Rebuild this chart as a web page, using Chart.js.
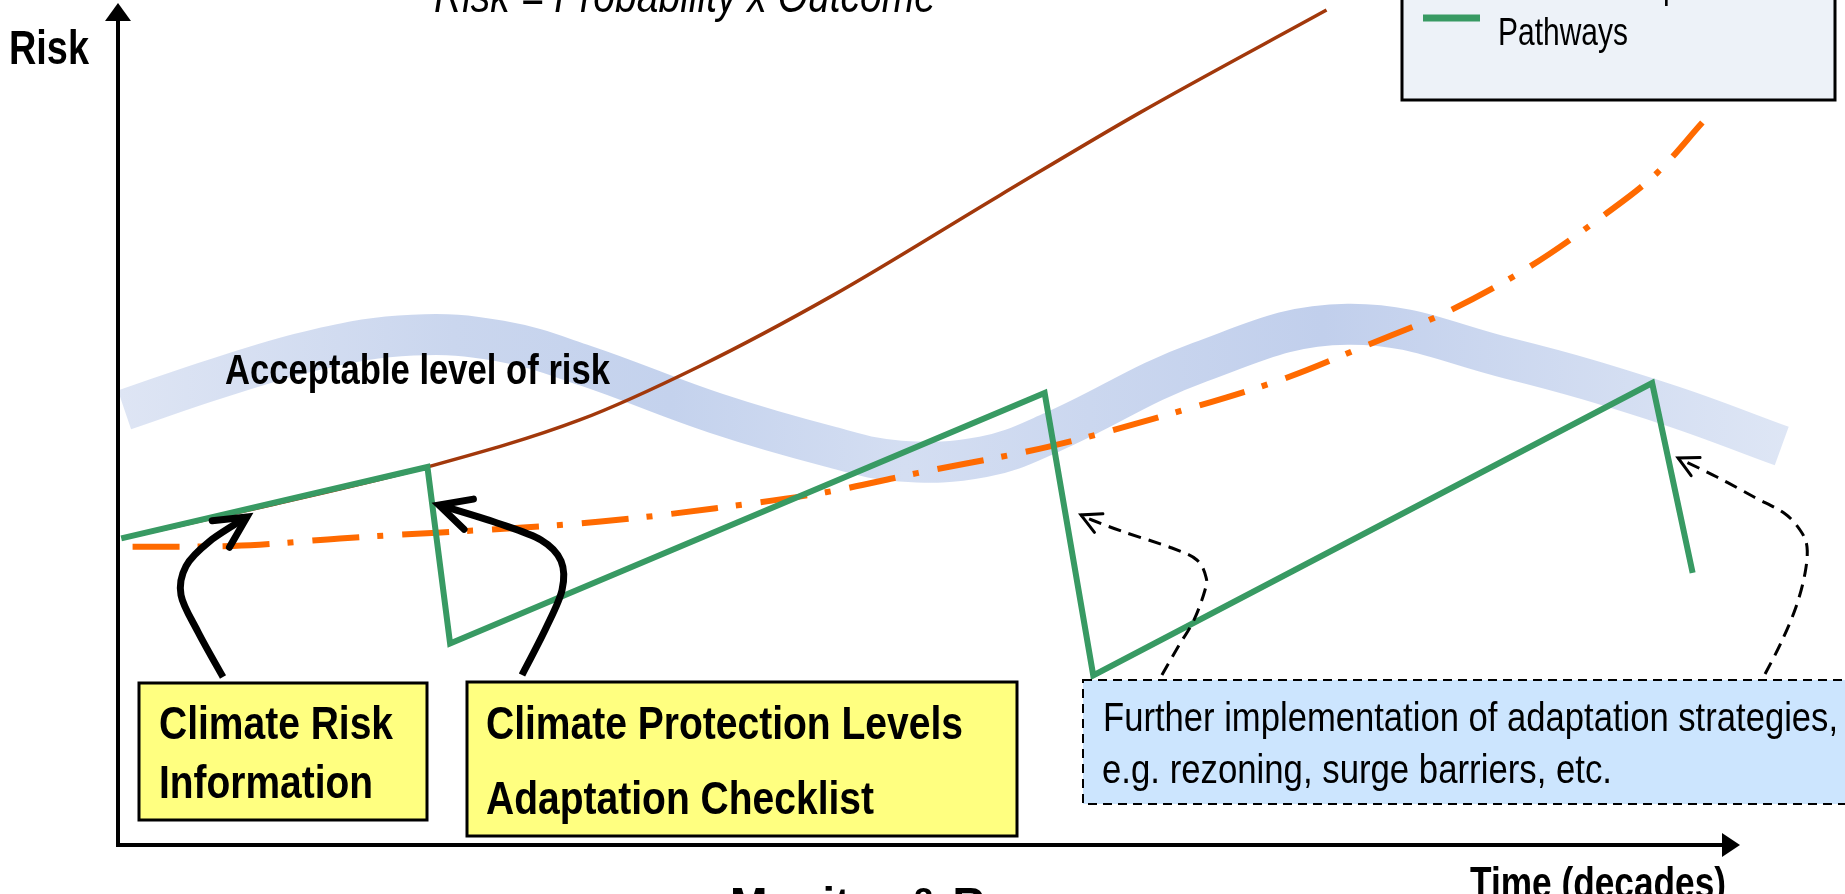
<!DOCTYPE html>
<html>
<head>
<meta charset="utf-8">
<title>Flexible Adaptation Pathways</title>
<script src="https://cdn.jsdelivr.net/npm/chart.js@4.4.1/dist/chart.umd.min.js"></script>
<style>
  html, body { margin: 0; padding: 0; background: #ffffff; overflow: hidden; }
  canvas { display: block; }
</style>
</head>
<body>
<canvas id="risk" width="1845" height="894"></canvas>
<script>
// Time in decades (0–10 across the axis), risk in relative units (0–10 up the axis)

// Flexible adaptation pathways: risk climbs, then each adaptation step drops it
const pathwayTime = [0.02, 1.91, 2.05, 5.72, 6.02, 9.47, 9.72];
const pathwayRisk = [3.65, 4.50, 2.40, 5.38, 2.02, 5.50, 3.24];

// Risk with climate change and no adaptation
const noAdaptTime = [0.025, 0.97, 1.91, 2.85, 3.59, 4.41, 5.44, 6.30, 7.46];
const noAdaptRisk = [3.65, 4.06, 4.50, 5.06, 5.70, 6.54, 7.73, 8.71, 9.94];

// Risk under an alternative climate trajectory (dash-dot)
const altTime = [0.09, 0.71, 1.37, 2.98, 3.69, 4.37, 4.94, 5.74, 6.40, 7.21, 7.71, 8.23, 8.71, 9.16, 9.50, 9.78];
const altRisk = [3.55, 3.56, 3.65, 3.85, 4.01, 4.20, 4.43, 4.74, 5.08, 5.56, 5.95, 6.37, 6.88, 7.48, 8.00, 8.60];

// Acceptable level of risk (broad band)
const bandTime = [0.04, 0.62, 1.23, 1.82, 2.36, 2.88, 3.69, 4.40, 4.83, 5.34, 5.75, 6.68, 7.59, 8.59, 9.54, 10.27];
const bandRisk = [5.18, 5.56, 5.90, 6.07, 6.00, 5.71, 5.14, 4.74, 4.57, 4.62, 4.90, 5.75, 6.20, 5.79, 5.26, 4.75];

// Annotation arrows, in the same time / risk units
const arrowRiskInfoT = [0.648, 0.494, 0.389, 0.420, 0.568, 0.796];
const arrowRiskInfoR = [2.000, 2.536, 2.976, 3.321, 3.619, 3.905];
const arrowProtectT  = [2.494, 2.642, 2.741, 2.735, 2.611, 2.340, 1.981];
const arrowProtectR  = [2.024, 2.583, 3.036, 3.381, 3.631, 3.833, 4.048];
const arrowFurther1T = [6.444, 6.543, 6.642, 6.710, 6.716, 6.660, 6.506, 6.210, 6.012, 5.944];
const arrowFurther1R = [2.024, 2.357, 2.679, 3.036, 3.190, 3.393, 3.536, 3.726, 3.869, 3.929];
const arrowFurther2T = [10.167, 10.265, 10.358, 10.414, 10.426, 10.383, 10.284, 10.099, 9.870, 9.630];
const arrowFurther2R = [2.036, 2.405, 2.833, 3.238, 3.548, 3.750, 3.952, 4.143, 4.381, 4.607];

const toPoints = (xs, ys) => xs.map((x, i) => ({ x: x, y: ys[i] }));

const NARROW = "'Liberation Sans Narrow', 'Arial Narrow', 'Liberation Sans', Arial, sans-serif";
const WIDE = "'Liberation Sans', Arial, sans-serif";

// Draws text so that it spans a given width (condensed face, horizontally fitted)
function fitText(ctx, str, x, y, font, width, color) {
  ctx.save();
  ctx.font = font;
  ctx.fillStyle = color || '#000';
  ctx.textAlign = 'left';
  ctx.textBaseline = 'alphabetic';
  const m = ctx.measureText(str).width;
  const sx = width ? width / m : 1;
  ctx.translate(x, y);
  ctx.scale(sx, 1);
  ctx.fillText(str, 0, 0);
  ctx.restore();
  return sx;
}

function smoothPath(ctx, pts) {
  ctx.moveTo(pts[0].x, pts[0].y);
  for (let i = 0; i < pts.length - 1; i++) {
    const p0 = pts[i - 1] || pts[i];
    const p1 = pts[i];
    const p2 = pts[i + 1];
    const p3 = pts[i + 2] || p2;
    ctx.bezierCurveTo(
      p1.x + (p2.x - p0.x) / 6, p1.y + (p2.y - p0.y) / 6,
      p2.x - (p3.x - p1.x) / 6, p2.y - (p3.y - p1.y) / 6,
      p2.x, p2.y);
  }
}

function drawArrow(chart, ts, rs, opts) {
  const { ctx, scales } = chart;
  const pts = ts.map((t, i) => ({ x: scales.x.getPixelForValue(t), y: scales.y.getPixelForValue(rs[i]) }));
  ctx.save();
  ctx.strokeStyle = '#000';
  ctx.lineWidth = opts.width;
  ctx.setLineDash(opts.dash || []);
  ctx.lineCap = 'butt';
  ctx.beginPath();
  smoothPath(ctx, pts);
  ctx.stroke();
  // open arrow head at the final point
  const a = pts[pts.length - 2], b = pts[pts.length - 1];
  const back = Math.atan2(a.y - b.y, a.x - b.x);
  ctx.setLineDash([]);
  ctx.lineCap = 'round';
  ctx.lineJoin = 'miter';
  ctx.beginPath();
  ctx.moveTo(b.x + opts.head * Math.cos(back + opts.spread), b.y + opts.head * Math.sin(back + opts.spread));
  ctx.lineTo(b.x, b.y);
  ctx.lineTo(b.x + opts.head * Math.cos(back - opts.spread), b.y + opts.head * Math.sin(back - opts.spread));
  ctx.stroke();
  ctx.restore();
}

function box(ctx, x, y, w, h, fill, lineWidth, dash) {
  ctx.save();
  ctx.fillStyle = fill;
  ctx.fillRect(x, y, w, h);
  ctx.strokeStyle = '#000';
  ctx.lineWidth = lineWidth;
  ctx.setLineDash(dash || []);
  ctx.strokeRect(x, y, w, h);
  ctx.restore();
}

const decor = {
  id: 'decor',
  afterDatasetsDraw(chart) {
    const { ctx, chartArea } = chart;
    const L = chartArea.left, B = chartArea.bottom;

    // axes with arrow heads
    ctx.save();
    ctx.strokeStyle = '#000';
    ctx.fillStyle = '#000';
    ctx.lineWidth = 4;
    ctx.beginPath();
    ctx.moveTo(L, B + 2);
    ctx.lineTo(L, chartArea.top + 14);
    ctx.moveTo(L - 2, B);
    ctx.lineTo(chartArea.right - 14, B);
    ctx.stroke();
    ctx.beginPath();
    ctx.moveTo(L, chartArea.top - 2);
    ctx.lineTo(L - 13, chartArea.top + 16);
    ctx.lineTo(L + 13, chartArea.top + 16);
    ctx.closePath();
    ctx.fill();
    ctx.beginPath();
    ctx.moveTo(chartArea.right + 2, B);
    ctx.lineTo(chartArea.right - 16, B - 12);
    ctx.lineTo(chartArea.right - 16, B + 12);
    ctx.closePath();
    ctx.fill();
    ctx.restore();

    // axis titles and formula
    fitText(ctx, 'Risk', 9, 64, 'bold 49px ' + NARROW, 80);
    fitText(ctx, 'Time (decades)', 1470, 898, 'bold 44px ' + NARROW, 256);
    fitText(ctx, 'Monitor & Reassess', 730, 920, 'bold 47px ' + WIDE, 430);
    fitText(ctx, 'Risk = Probability x Outcome', 434, 12, 'italic 48px ' + NARROW, 502);
    fitText(ctx, 'Acceptable level of risk', 225, 384, 'bold 42px ' + NARROW, 385);

    // legend (top right)
    box(ctx, 1402, -10, 433, 110, '#edf2f8', 3);
    ctx.save();
    ctx.strokeStyle = '#389a63';
    ctx.lineWidth = 7;
    ctx.beginPath();
    ctx.moveTo(1423, 18);
    ctx.lineTo(1480, 18);
    ctx.stroke();
    ctx.restore();
    const sx = fitText(ctx, 'Pathways', 1498, 45, '38px ' + NARROW, 130);
    ctx.save();
    ctx.font = '38px ' + NARROW;
    ctx.translate(1498, -2);
    ctx.scale(sx, 1);
    ctx.fillStyle = '#000';
    ctx.fillText('Flexible Adaptation', 0, 0);
    ctx.restore();

    // information boxes
    box(ctx, 139, 683, 288, 137, '#ffff80', 3);
    fitText(ctx, 'Climate Risk', 159, 739, 'bold 46px ' + NARROW, 234);
    fitText(ctx, 'Information', 159, 798, 'bold 46px ' + NARROW, 214);

    box(ctx, 467, 682, 550, 154, '#ffff80', 3);
    fitText(ctx, 'Climate Protection Levels', 486, 739, 'bold 46px ' + NARROW, 477);
    fitText(ctx, 'Adaptation Checklist', 486, 814, 'bold 46px ' + NARROW, 388);

    box(ctx, 1083, 680, 800, 124, '#cce5fe', 2, [9, 6]);
    fitText(ctx, 'Further implementation of adaptation strategies,', 1103, 731, '40px ' + NARROW, 735);
    fitText(ctx, 'e.g. rezoning, surge barriers, etc.', 1102, 783, '40px ' + NARROW, 510);

    // arrows from the boxes to the pathway
    const solid = { width: 7, head: 35, spread: 0.47 };
    drawArrow(chart, arrowRiskInfoT, arrowRiskInfoR, solid);
    drawArrow(chart, arrowProtectT, arrowProtectR, solid);
    const dashed = { width: 3, head: 22, spread: 0.48, dash: [13, 8] };
    drawArrow(chart, arrowFurther1T, arrowFurther1R, dashed);
    drawArrow(chart, arrowFurther2T, arrowFurther2R, dashed);
  }
};

function bandColor(context) {
  const chart = context.chart;
  const area = chart.chartArea;
  if (!area) return 'rgb(205,216,239)';
  const g = chart.ctx.createLinearGradient(120, 0, 1790, 0);
  g.addColorStop(0.00, 'rgb(222,229,244)');
  g.addColorStop(0.20, 'rgb(202,214,238)');
  g.addColorStop(0.33, 'rgb(196,210,237)');
  g.addColorStop(0.47, 'rgb(212,222,242)');
  g.addColorStop(0.58, 'rgb(203,215,239)');
  g.addColorStop(0.72, 'rgb(193,207,236)');
  g.addColorStop(1.00, 'rgb(222,230,245)');
  return g;
}

new Chart(document.getElementById('risk'), {
  type: 'line',
  data: {
    datasets: [
      {
        label: 'Flexible Adaptation Pathways',
        data: toPoints(pathwayTime, pathwayRisk),
        borderColor: '#389a63',
        borderWidth: 6,
        borderJoinStyle: 'miter',
        tension: 0,
        clip: false,
        order: 1
      },
      {
        label: 'Alternative climate trajectory',
        data: toPoints(altTime, altRisk),
        borderColor: '#ff6a00',
        borderWidth: 6,
        borderDash: [47, 18, 6, 19],
        cubicInterpolationMode: 'monotone',
        clip: false,
        order: 2
      },
      {
        label: 'Risk without adaptation',
        data: toPoints(noAdaptTime, noAdaptRisk),
        borderColor: '#a2380b',
        borderWidth: 3.5,
        cubicInterpolationMode: 'monotone',
        clip: false,
        order: 3
      },
      {
        label: 'Acceptable level of risk',
        data: toPoints(bandTime, bandRisk),
        borderColor: bandColor,
        borderWidth: 41,
        borderCapStyle: 'butt',
        tension: 0.4,
        clip: false,
        order: 4
      }
    ]
  },
  options: {
    responsive: false,
    animation: false,
    devicePixelRatio: 1,
    layout: { padding: { left: 118, right: 107, top: 5, bottom: 49 } },
    scales: {
      x: { type: 'linear', min: 0, max: 10, display: false },
      y: { type: 'linear', min: 0, max: 10, display: false }
    },
    elements: { point: { radius: 0 } },
    plugins: { legend: { display: false }, tooltip: { enabled: false } }
  },
  plugins: [decor]
});
</script>
</body>
</html>
